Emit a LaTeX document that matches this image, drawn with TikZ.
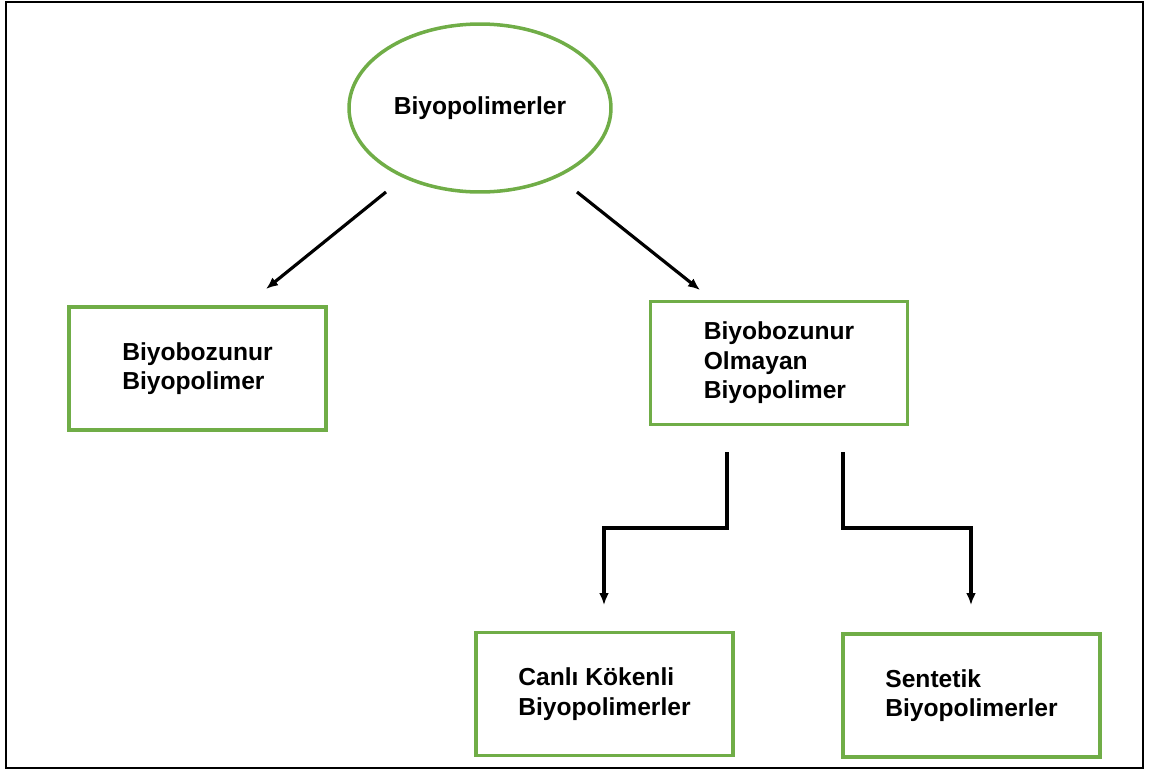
\documentclass[tikz,border=0pt]{standalone}
\usepackage{fontspec}
\setmainfont{Liberation Sans}
\usepackage{tikz}
\usetikzlibrary{arrows.meta, shapes.geometric, positioning}
\definecolor{yesil}{HTML}{70AD47}

\begin{document}
\begin{tikzpicture}[>=Latex, x=0.02cm, y=-0.02cm,
    yazi/.style={font=\bfseries\fontsize{14}{16.8}\selectfont},
    kutu/.style={yazi, draw=yesil, line width=2pt, minimum width=5.14cm, minimum height=2.46cm, align=left},
    ok/.style={->, line width=1.8pt, >={Latex[length=2.4mm,width=2mm]}}]
    % sayfa
    \useasboundingbox (0,0) rectangle (1150,771);
    \draw[line width=1.4pt] (6,2) rectangle (1143,768);

    % kok
    \node[yazi, ellipse, draw=yesil, line width=2pt, minimum width=5.24cm, minimum height=3.36cm] (kok) at (480,108) {Biyopolimerler};

    % kutular
    \node[kutu] (sol) at (197.5,368.5) {Biyobozunur\\Biyopolimer};
    \node[kutu] (sag) at (779,363) {Biyobozunur\\Olmayan\\Biyopolimer};
    \node[kutu] (canli) at (604.5,694) {Canlı Kökenli\\Biyopolimerler};
    \node[kutu] (sentetik) at (971.5,695.5) {Sentetik\\Biyopolimerler};

    % ok uclari
    \coordinate (kokSol) at (386,192);
    \coordinate (solUst) at (266,289);
    \coordinate (kokSag) at (577,192);
    \coordinate (sagUst) at (700,290);
    \coordinate (sagAlt1) at (727,452);
    \coordinate (canliUst) at (604,605);
    \coordinate (sagAlt2) at (843,452);
    \coordinate (sentetikUst) at (971,605);

    % oklar
    \draw[ok] (kokSol) -- (solUst);
    \draw[ok] (kokSag) -- (sagUst);
    \draw[ok] (sagAlt1) -- ++(0,76) -| (canliUst);
    \draw[ok] (sagAlt2) -- ++(0,76) -| (sentetikUst);
\end{tikzpicture}
\end{document}
